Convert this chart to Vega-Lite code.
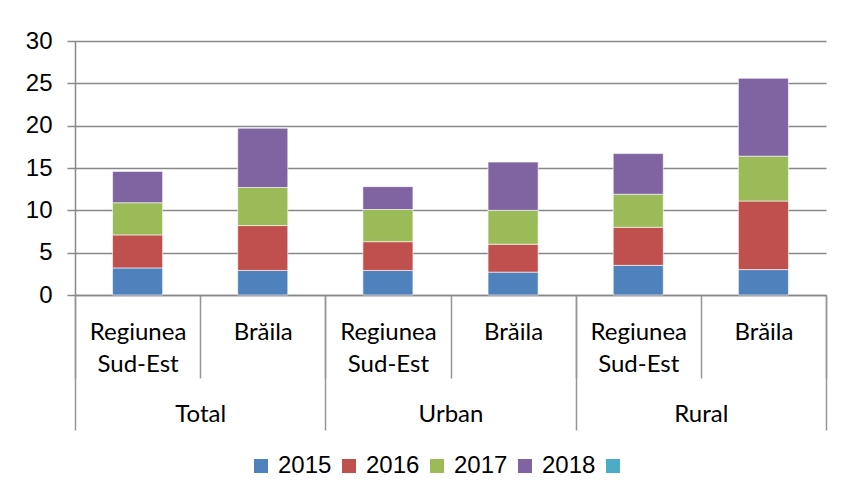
{
  "$schema": "https://vega.github.io/schema/vega-lite/v6.json",
  "width": 751,
  "height": 254,
  "autosize": {"type": "none"},
  "padding": {"left": 75, "top": 41, "right": 16, "bottom": 204},
  "background": "white",
  "config": {"view": {"stroke": null}},
  "data": {
    "values": [
      {"group": "Total", "region": "Regiunea Sud-Est", "year": "2015", "value": 3.2},
      {"group": "Total", "region": "Regiunea Sud-Est", "year": "2016", "value": 3.9},
      {"group": "Total", "region": "Regiunea Sud-Est", "year": "2017", "value": 3.8},
      {"group": "Total", "region": "Regiunea Sud-Est", "year": "2018", "value": 3.7},
      {"group": "Total", "region": "Brăila", "year": "2015", "value": 2.9},
      {"group": "Total", "region": "Brăila", "year": "2016", "value": 5.3},
      {"group": "Total", "region": "Brăila", "year": "2017", "value": 4.5},
      {"group": "Total", "region": "Brăila", "year": "2018", "value": 7.0},
      {"group": "Urban", "region": "Regiunea Sud-Est", "year": "2015", "value": 2.9},
      {"group": "Urban", "region": "Regiunea Sud-Est", "year": "2016", "value": 3.4},
      {"group": "Urban", "region": "Regiunea Sud-Est", "year": "2017", "value": 3.8},
      {"group": "Urban", "region": "Regiunea Sud-Est", "year": "2018", "value": 2.7},
      {"group": "Urban", "region": "Brăila", "year": "2015", "value": 2.7},
      {"group": "Urban", "region": "Brăila", "year": "2016", "value": 3.3},
      {"group": "Urban", "region": "Brăila", "year": "2017", "value": 4.0},
      {"group": "Urban", "region": "Brăila", "year": "2018", "value": 5.7},
      {"group": "Rural", "region": "Regiunea Sud-Est", "year": "2015", "value": 3.5},
      {"group": "Rural", "region": "Regiunea Sud-Est", "year": "2016", "value": 4.5},
      {"group": "Rural", "region": "Regiunea Sud-Est", "year": "2017", "value": 3.9},
      {"group": "Rural", "region": "Regiunea Sud-Est", "year": "2018", "value": 4.8},
      {"group": "Rural", "region": "Brăila", "year": "2015", "value": 3.0},
      {"group": "Rural", "region": "Brăila", "year": "2016", "value": 8.1},
      {"group": "Rural", "region": "Brăila", "year": "2017", "value": 5.3},
      {"group": "Rural", "region": "Brăila", "year": "2018", "value": 9.2}
    ]
  },
  "transform": [{"calculate": "datum.group + '|' + datum.region", "as": "bar"}],
  "layer": [
    {
      "mark": {"type": "bar", "width": {"band": 0.4}, "stroke": "#ffffff", "strokeWidth": 0.6},
      "encoding": {
        "x": {
          "field": "bar",
          "type": "nominal",
          "sort": ["Total|Regiunea Sud-Est", "Total|Brăila", "Urban|Regiunea Sud-Est", "Urban|Brăila", "Rural|Regiunea Sud-Est", "Rural|Brăila"],
          "scale": {"paddingInner": 0, "paddingOuter": 0},
          "axis": {
            "orient": "bottom",
            "title": null,
            "labelAngle": 0,
            "tickBand": "extent",
            "tickSize": 83,
            "tickColor": "#969696",
            "tickWidth": 1.5,
            "domainColor": "#888888",
            "domainWidth": 1.5,
            "labelExpr": "indexof(datum.label, 'Regiunea') >= 0 ? ['Regiunea', 'Sud-Est'] : (indexof(datum.label, 'Brăila') >= 0 ? 'Brăila' : '')",
            "labelFont": "Lato",
            "labelFontSize": 24,
            "labelColor": "#000000",
            "labelBaseline": "top",
            "labelLineHeight": 32,
            "labelPadding": -58,
            "labelOverlap": false,
            "grid": false
          }
        },
        "y": {
          "field": "value",
          "type": "quantitative",
          "stack": "zero",
          "scale": {"domain": [0, 30]},
          "axis": {
            "title": null,
            "values": [0, 5, 10, 15, 20, 25, 30],
            "grid": true,
            "gridColor": "#888888",
            "gridWidth": 1.5,
            "domainColor": "#888888",
            "domainWidth": 1.5,
            "tickColor": "#888888",
            "tickWidth": 1.5,
            "tickSize": 8,
            "labelFont": "Liberation Sans",
            "labelFontSize": 24,
            "labelColor": "#000000",
            "labelPadding": 15
          }
        },
        "color": {
          "field": "year",
          "type": "nominal",
          "scale": {
            "domain": ["2015", "2016", "2017", "2018", "s5"],
            "range": ["#4F81BD", "#C0504D", "#9BBB59", "#8064A2", "#4BACC6"]
          },
          "legend": {
            "title": null,
            "orient": "none",
            "legendX": 174,
            "legendY": 413,
            "direction": "horizontal",
            "columns": 5,
            "symbolType": "square",
            "symbolSize": 196,
            "symbolStrokeWidth": 0,
            "labelFont": "Liberation Sans",
            "labelFontSize": 24,
            "labelColor": "#000000",
            "labelOffset": 5,
            "columnPadding": 5,
            "labelExpr": "datum.label == 's5' ? '' : datum.label"
          }
        },
        "order": {"field": "year", "sort": "ascending"}
      }
    },
    {
      "mark": {"type": "rule", "strokeOpacity": 0},
      "encoding": {
        "x": {
          "field": "group",
          "type": "nominal",
          "sort": ["Total", "Urban", "Rural"],
          "scale": {"paddingInner": 0, "paddingOuter": 0},
          "axis": {
            "orient": "bottom",
            "title": null,
            "labelAngle": 0,
            "tickBand": "extent",
            "tickSize": 135,
            "tickColor": "#969696",
            "tickWidth": 1.5,
            "domain": false,
            "labelExpr": "datum.label == null ? '' : datum.label",
            "labelFont": "Lato",
            "labelFontSize": 24,
            "labelColor": "#000000",
            "labelBaseline": "top",
            "labelPadding": -28,
            "labelOverlap": false,
            "grid": false
          }
        }
      }
    }
  ],
  "resolve": {"scale": {"x": "independent"}, "axis": {"x": "independent"}}
}
